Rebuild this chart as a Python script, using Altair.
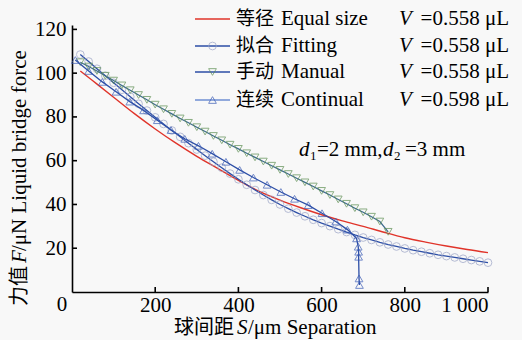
import altair as alt
import pandas as pd

# ---------------- data ----------------
eq_s = [20, 50, 100, 150, 200, 250, 300, 350, 400, 450, 500, 550, 600, 650, 700, 750, 800, 850, 900, 950, 1000]
eq_f = [101, 96.5, 89, 81.5, 74.5, 68, 62, 56.5, 51, 46, 42, 38.5, 35.3, 32.5, 30, 27.3, 24.8, 22.8, 21, 19.4, 18]

fit_s = [20, 40, 60, 80, 100, 120, 140, 160, 180, 200, 220, 240, 260, 280, 300, 320, 340, 360, 380, 400,
         420, 440, 460, 480, 500, 520, 540, 560, 580, 600, 620, 640, 660, 680, 700, 720, 740, 760, 780, 800,
         820, 840, 860, 880, 900, 920, 940, 960, 980, 1000]
fit_f = [108.5, 105.3, 102, 98.8, 95.6, 92.4, 89.2, 86, 82.9, 79.8, 76.8, 73.8, 70.9, 68, 65.1, 62.3, 59.5, 56.8, 54.1, 51.5,
         49, 46.6, 44.3, 42.1, 40, 38.1, 36.3, 34.6, 33, 31.5, 30.1, 28.7, 27.4, 26.1, 24.9, 23.8, 22.7, 21.7, 20.8, 19.9,
         19.1, 18.4, 17.7, 17, 16.4, 15.8, 15.2, 14.6, 14, 13.4]

man_s = [20, 40, 60, 80, 100, 120, 140, 160, 180, 200, 220, 240, 260, 280, 300, 320, 340, 360, 380, 400,
         420, 440, 460, 480, 500, 520, 540, 560, 580, 600, 620, 640, 660, 680, 700, 720, 740, 760]
man_f = [105, 103, 101, 98.8, 96.6, 94.4, 92.2, 90, 87.8, 85.6, 83.5, 81.4, 79.3, 77.3, 75.3, 73.3, 71.3, 69.3, 67.3, 65.4,
         63.4, 61.5, 59.6, 57.7, 55.8, 53.9, 52, 50.1, 48.2, 46.2, 44.3, 42.3, 40.3, 38.3, 36.4, 34.4, 32.2, 27.5]

con_s = [8, 40, 73, 106, 139, 172, 205, 238, 271, 304, 337, 370, 403, 436, 469, 502, 535, 568, 601, 634,
         662, 684, 688, 689, 689, 690, 691]
con_f = [106, 101, 96, 91.5, 87, 83, 78.5, 74, 70, 66.8, 63.2, 59.5, 55.8, 52.3, 49, 45.7, 42.6, 39.7, 36, 32.2,
         28.5, 24.5, 20.7, 18.4, 16.1, 6.2, 3.2]

x_ticks = [200, 400, 600, 800, 1000]
y_ticks = [20, 40, 60, 80, 100, 120]

legend_cn = ["等径", "拟合", "手动", "连续"]
legend_en = ["Equal size", "Fitting", "Manual", "Continual"]
legend_v = ["=0.558 μL", "=0.558 μL", "=0.558 μL", "=0.598 μL"]

FONT = "Liberation Serif"
FONT_CN = "Noto Sans CJK SC"
FS = 21
RED = "#e0342a"
BLUE = "#2c4ea6"
CIRC = "#9aa3c6"
GREEN = "#5d8f52"
TRI = "#3a5bb5"

W, H = 416, 267
xs = alt.Scale(domain=[0, 1000], nice=False, zero=False)
ys = alt.Scale(domain=[0, 122], nice=False, zero=False)

axis_common = dict(ticks=False, tickSize=0, grid=False, domainColor="black", domainWidth=1.6,
                   labelFont=FONT, labelFontSize=FS, labelColor="black", title=None)
xax = alt.Axis(values=x_ticks, labelPadding=2,
               labelExpr="datum.value == 1000 ? '1 000' : datum.label", **axis_common)
yax = alt.Axis(values=y_ticks, labelPadding=6, **axis_common)

df_eq = pd.DataFrame({"S": eq_s, "F": eq_f})
df_fit = pd.DataFrame({"S": fit_s, "F": fit_f})
df_man = pd.DataFrame({"S": man_s, "F": man_f})
df_con = pd.DataFrame({"S": con_s, "F": con_f, "o": list(range(len(con_s)))})

X = alt.X("S:Q", scale=xs, axis=xax)
Y = alt.Y("F:Q", scale=ys, axis=yax)

eq_line = alt.Chart(df_eq).mark_line(color=RED, strokeWidth=1.4, interpolate="monotone").encode(x=X, y=Y)
fit_line = alt.Chart(df_fit).mark_line(color=BLUE, strokeWidth=1.3).encode(x=X, y=Y)
fit_pts = alt.Chart(df_fit).mark_point(shape="circle", color=CIRC, filled=False, size=60, strokeWidth=1).encode(x=X, y=Y)
man_line = alt.Chart(df_man).mark_line(color="#3d6a8e", strokeWidth=1.2).encode(x=X, y=Y)
man_pts = alt.Chart(df_man).mark_point(shape="triangle-down", color=GREEN, filled=False, size=60, strokeWidth=1).encode(x=X, y=Y)
con_line = alt.Chart(df_con).mark_line(color=BLUE, strokeWidth=1.3).encode(x=X, y=Y, order="o:Q")
con_pts = alt.Chart(df_con).mark_point(shape="triangle-up", color=TRI, filled=False, size=60, strokeWidth=1).encode(x=X, y=Y)

# inward ticks
xt = alt.Chart(pd.DataFrame({"S": x_ticks})).mark_rule(color="black", strokeWidth=1.6).encode(
    x=alt.X("S:Q", scale=xs, axis=xax), y=alt.value(H), y2=alt.value(H - 5))
yt = alt.Chart(pd.DataFrame({"F": y_ticks})).mark_rule(color="black", strokeWidth=1.6).encode(
    y=alt.Y("F:Q", scale=ys, axis=yax), x=alt.value(0), x2=alt.value(5))

one = pd.DataFrame({"a": [0]})


def txt(s, x, y, font=FONT, size=FS, style="normal", align="left", angle=0, baseline="middle"):
    return alt.Chart(one).mark_text(align=align, baseline=baseline, font=font, fontSize=size,
                                    fontStyle=style, angle=angle, color="black").encode(
        x=alt.value(x - 72), y=alt.value(y - 25), text=alt.value(s))


def hline(x1, x2, y, color):
    return alt.Chart(one).mark_rule(color=color, strokeWidth=1.3).encode(
        x=alt.value(x1 - 72), x2=alt.value(x2 - 72), y=alt.value(y - 25))


def marker(x, y, shape, color):
    return alt.Chart(one).mark_point(shape=shape, color=color, filled=False, size=60, strokeWidth=1).encode(
        x=alt.value(x - 72), y=alt.value(y - 25))


rows = [19, 46, 72, 100]
line_cols = [RED, BLUE, BLUE, "#6f8fd3"]
marks = [None, ("circle", CIRC), ("triangle-down", GREEN), ("triangle-up", TRI)]
leg = []
for i, ry in enumerate(rows):
    leg.append(hline(195, 230, ry, line_cols[i]))
    if marks[i]:
        leg.append(marker(212.5, ry, marks[i][0], marks[i][1]))
    leg.append(txt(legend_cn[i], 236, ry, font=FONT_CN, size=19))
    leg.append(txt(legend_en[i], 281, ry))
    leg.append(txt("V", 399, ry, style="italic"))
    leg.append(txt(legend_v[i], 509, ry, align="right"))

ann = [
    txt("d", 299, 150, style="italic"),
    txt("1", 310, 156, size=13),
    txt("=2 mm,", 317, 150),
    txt("d", 383, 150, style="italic"),
    txt("2", 394, 156, size=13),
    txt("=3 mm", 405, 150),
    txt("0", 62, 305, align="center"),
    # x title
    txt("球间距", 174, 328, font=FONT_CN, size=20),
    txt("S", 237, 328, style="italic"),
    txt("/μm Separation", 248, 328),
    # y title
    txt("力值", 20, 306, font=FONT_CN, size=20, angle=270),
    txt("F", 20, 263, style="italic", angle=270),
    txt("/μN Liquid bridge force", 20, 251, angle=270),
]

chart = alt.layer(eq_line, fit_line, fit_pts, man_line, man_pts, con_line, con_pts, xt, yt,
                  *leg, *ann).properties(
    width=W, height=H,
    autosize=alt.AutoSizeParams(type="none"),
    padding={"left": 72, "top": 25, "right": 34, "bottom": 48},
    background="#f8f8f8",
).configure_view(stroke=None)

chart.save("out.html", embed_options={"renderer": "svg", "actions": False})
